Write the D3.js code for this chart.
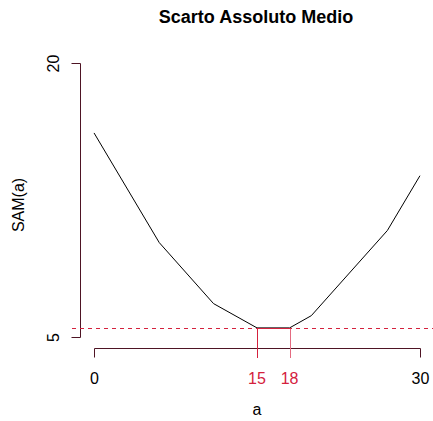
<!DOCTYPE html>
<html><head><meta charset="utf-8">
<script src="https://cdn.jsdelivr.net/npm/d3@7"></script>
<style>html,body{margin:0;padding:0;background:#fff;}svg{display:block;}</style>
</head><body>
<svg id="chart" width="433" height="421"></svg>
<script>
const aValues = [0, 6, 11, 15, 18, 20, 27, 30];
const samValues = [16.17, 10.17, 6.83, 5.5, 5.5, 6.17, 10.83, 13.83];
const xTicks = [0, 30];
const xTicksHighlight = [15, 18];
const yTicks = [5, 20];
const minSAM = 5.5;

const axisCol = "#4e1424", red = "#d4213d", lightRed = "#e46a80";
const font = "'Liberation Sans', Arial, Helvetica, sans-serif";
const svg = d3.select("#chart");
const x = d3.scaleLinear().domain([-1.2, 31.2]).range([81, 433]);
const y = d3.scaleLinear().domain([4.4, 20.6]).range([348, 52]);
const c = v => Math.round(v) + 0.5; // crisp pixel centre

// title
svg.append("text").attr("x", 256).attr("y", 23).attr("text-anchor", "middle")
  .attr("font-family", font).attr("font-weight", "bold").attr("font-size", 18).text("Scarto Assoluto Medio");

// y axis
const yAxis = d3.axisLeft(y).tickValues(yTicks).tickSize(9).tickFormat(d3.format("d"));
const gy = svg.append("g").attr("transform", "translate(80.5,0)").call(yAxis);
gy.select(".domain").attr("d", `M0,${c(y(5))}V${c(y(20))}`).attr("stroke", axisCol).attr("fill", "none");
gy.selectAll(".tick").attr("transform", d => `translate(0,${c(y(d))})`);
gy.selectAll(".tick line").attr("stroke", axisCol);
gy.selectAll(".tick text").attr("font-family", font).attr("font-size", 16).attr("fill", "#000")
  .attr("x", null).attr("dy", null).attr("text-anchor", "middle")
  .attr("transform", "translate(-22,0) rotate(-90)");

// x axis
const xAxis = d3.axisBottom(x).tickValues(xTicks).tickSize(9).tickFormat(d3.format("d"));
const gx = svg.append("g").attr("transform", "translate(0,348.5)").call(xAxis);
gx.select(".domain").attr("d", `M${c(x(0))},0H${c(x(30))}`).attr("stroke", axisCol).attr("fill", "none");
gx.selectAll(".tick").attr("transform", d => `translate(${c(x(d))},0)`);
gx.selectAll(".tick line").attr("stroke", axisCol);
gx.selectAll(".tick text").attr("font-family", font).attr("font-size", 16).attr("fill", "#000")
  .attr("y", 35).attr("dy", null);

// curve
const line = d3.line().x((d, i) => x(aValues[i])).y(d => y(d));
svg.append("path").datum(samValues).attr("d", line).attr("fill", "none").attr("stroke", "#000").attr("stroke-width", 1);

// dashed min line
const yMin = c(y(minSAM));
svg.append("line").attr("x1", 72).attr("x2", 433).attr("y1", yMin).attr("y2", yMin)
  .attr("stroke", red).attr("stroke-dasharray", "4,4").attr("stroke-width", 1);

// highlighted interval
svg.append("line").attr("x1", c(x(15))).attr("x2", c(x(15))).attr("y1", 358).attr("y2", yMin).attr("stroke", red);
svg.append("line").attr("x1", c(x(18))).attr("x2", c(x(18))).attr("y1", 358).attr("y2", yMin).attr("stroke", lightRed);
svg.append("line").attr("x1", c(x(15))).attr("x2", c(x(18))).attr("y1", yMin).attr("y2", yMin).attr("stroke", red);
svg.selectAll("text.hl").data(xTicksHighlight).enter().append("text").attr("class","hl")
  .attr("x", d => x(d)).attr("y", 383.5).attr("text-anchor", "middle")
  .attr("font-family", font).attr("font-size", 16).attr("fill", red).text(d => d);

// axis labels
svg.append("text").attr("x", 257).attr("y", 415).attr("text-anchor", "middle")
  .attr("font-family", font).attr("font-size", 16).text("a");
svg.append("text").attr("transform", "translate(24,205) rotate(-90)").attr("text-anchor", "middle")
  .attr("font-family", font).attr("font-size", 16).text("SAM(a)");
</script>
</body></html>
